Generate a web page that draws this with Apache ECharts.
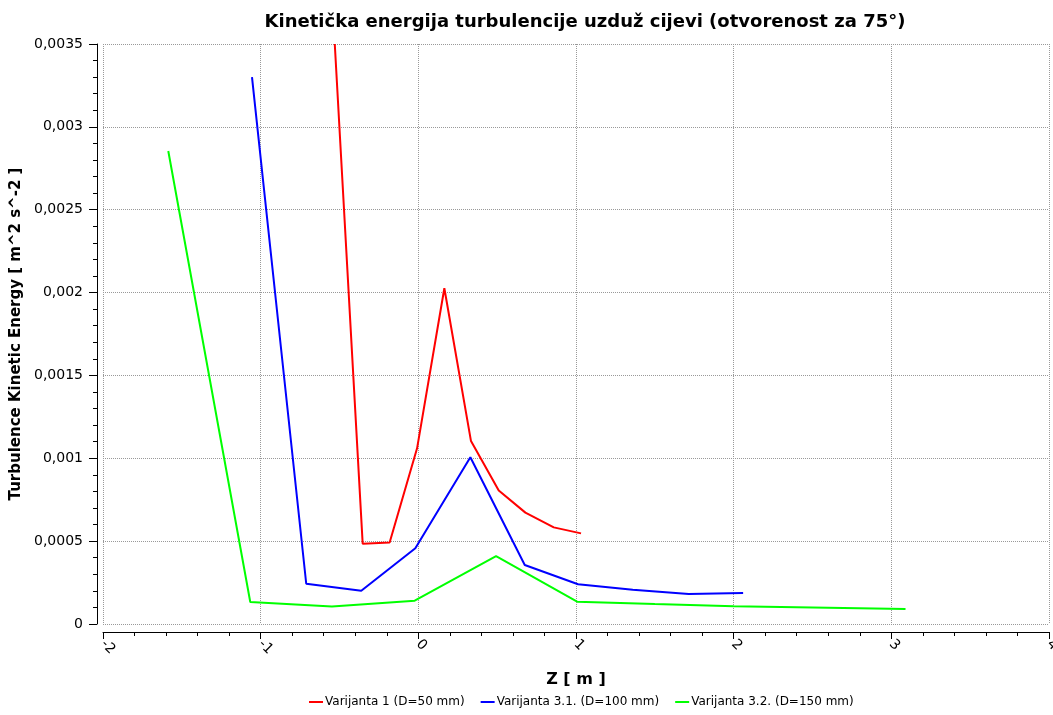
<!DOCTYPE html>
<html><head><meta charset="utf-8">
<script src="https://cdn.jsdelivr.net/npm/echarts@6/dist/echarts.min.js"></script>
<style>html,body{margin:0;padding:0;background:#fff}#c{width:1053px;height:715px}</style>
</head><body><div id="c"></div>
<script>
const titleText = 'Kinetička energija turbulencije uzduž cijevi (otvorenost za 75°)';
const xName = 'Z [ m ]';
const yName = 'Turbulence Kinetic Energy [ m^2 s^-2 ]';
const seriesNames = ['Varijanta 1 (D=50 mm)', 'Varijanta 3.1. (D=100 mm)', 'Varijanta 3.2. (D=150 mm)'];

const v1X = [-0.53, -0.353, -0.182, -0.008, 0.165, 0.334, 0.510, 0.679, 0.859, 1.032];
const v1Y = [0.0035, 0.000485, 0.000492, 0.00106, 0.002026, 0.001104, 0.000805, 0.000672, 0.000583, 0.000547];

const v31X = [-1.055, -0.711, -0.362, -0.019, 0.330, 0.675, 1.013, 1.36, 1.715, 2.06];
const v31Y = [0.0033, 0.000243, 0.000201, 0.000457, 0.001006, 0.000356, 0.00024, 0.000207, 0.000181, 0.000187];

const v32X = [-1.586, -1.066, -0.548, -0.023, 0.493, 1.007, 1.5, 2.0, 2.5, 3.09];
const v32Y = [0.002854, 0.000133, 0.000105, 0.000141, 0.00041, 0.000135, 0.00012, 0.000107, 0.000099, 0.00009];

const colors = ['#ff0000', '#0000ff', '#00ff00'];
const zip = (xs, ys) => xs.map((x, i) => [x, ys[i]]);
const allData = [zip(v1X, v1Y), zip(v31X, v31Y), zip(v32X, v32Y)];

const font = 'Tahoma, "DejaVu Sans", Verdana, sans-serif';
const chart = echarts.init(document.getElementById('c'));
chart.setOption({
  animation: false,
  backgroundColor: '#ffffff',
  title: {
    text: titleText, left: 580, top: 8, textAlign: 'center',
    textStyle: { fontFamily: font, fontWeight: 'bold', fontSize: 18, color: '#000' }
  },
  legend: {
    bottom: 2, left: 304,
    itemWidth: 14, itemHeight: 2, itemGap: 16,
    icon: 'rect',
    textStyle: { fontFamily: font, fontSize: 12, color: '#000', padding: [0, 0, 0, -3] },
    data: seriesNames
  },
  grid: { left: 103, right: 4, top: 44, bottom: 91, containLabel: false, outerBoundsMode: 'none' },
  xAxis: {
    type: 'value', min: -2, max: 4, interval: 1,
    name: xName, nameLocation: 'middle', nameGap: 40,
    nameTextStyle: { fontFamily: font, fontWeight: 'bold', fontSize: 16, color: '#000' },
    offset: 8,
    axisLine: { show: true, onZero: false, lineStyle: { color: '#000', width: 1 } },
    axisTick: { show: true, length: 7, lineStyle: { color: '#000' } },
    minorTick: { show: true, splitNumber: 5, length: 4, lineStyle: { color: '#000' } },
    axisLabel: { rotate: -45, fontFamily: font, fontSize: 14, color: '#000', margin: 10,
      formatter: v => String(v) },
    splitLine: { show: true, lineStyle: { color: '#999', type: 'dotted', width: 1 } }
  },
  yAxis: {
    type: 'value', min: 0, max: 0.0035, interval: 0.0005,
    name: yName, nameLocation: 'middle', nameGap: 69,
    nameTextStyle: { fontFamily: font, fontWeight: 'bold', fontSize: 15, color: '#000' },
    offset: 6,
    axisLine: { show: true, onZero: false, lineStyle: { color: '#000', width: 1 } },
    axisTick: { show: true, length: 8, lineStyle: { color: '#000' } },
    minorTick: { show: true, splitNumber: 5, length: 4, lineStyle: { color: '#000' } },
    axisLabel: { fontFamily: font, fontSize: 14, color: '#000', margin: 14,
      formatter: v => String(+v.toFixed(6)).replace('.', ',') },
    splitLine: { show: true, lineStyle: { color: '#999', type: 'dotted', width: 1 } }
  },
  series: seriesNames.map((n, i) => ({
    name: n, type: 'line', data: allData[i], showSymbol: false, symbol: 'none',
    clip: true, color: colors[i],
    lineStyle: { color: colors[i], width: 2 }
  }))
});
</script></body></html>
